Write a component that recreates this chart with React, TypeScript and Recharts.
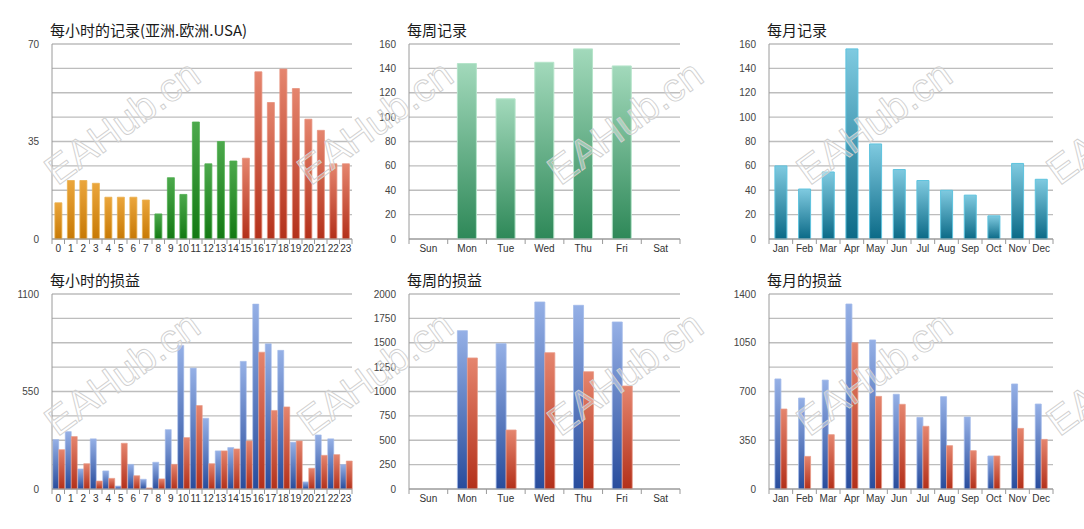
import { BarChart, Bar, XAxis, YAxis, CartesianGrid, Cell } from 'recharts'

// hourly records, coloured by trading session
const hours = ['0', '1', '2', '3', '4', '5', '6', '7', '8', '9', '10', '11', '12', '13', '14', '15', '16', '17', '18', '19', '20', '21', '22', '23']
const hourlyCount = [13, 21, 21, 20, 15, 15, 15, 14, 9, 22, 16, 42, 27, 35, 28, 29, 60, 49, 61, 54, 43, 39, 27, 27]
const hourlySession = ['asia', 'asia', 'asia', 'asia', 'asia', 'asia', 'asia', 'asia', 'europe', 'europe', 'europe', 'europe', 'europe', 'europe', 'europe', 'usa', 'usa', 'usa', 'usa', 'usa', 'usa', 'usa', 'usa', 'usa']
const hourlyProfit = [279, 324, 113, 283, 102, 17, 139, 55, 151, 335, 810, 682, 399, 215, 234, 720, 1043, 819, 782, 264, 40, 305, 283, 138]
const hourlyLoss = [222, 296, 143, 45, 60, 258, 75, 6, 57, 139, 290, 471, 143, 215, 226, 271, 772, 443, 463, 271, 117, 190, 194, 158]

const days = ['Sun', 'Mon', 'Tue', 'Wed', 'Thu', 'Fri', 'Sat']
const dailyCount = [0, 144, 115, 145, 156, 142, 0]
const dailyProfit = [0, 1624, 1491, 1918, 1884, 1713, 0]
const dailyLoss = [0, 1344, 605, 1398, 1203, 1056, 0]

const months = ['Jan', 'Feb', 'Mar', 'Apr', 'May', 'Jun', 'Jul', 'Aug', 'Sep', 'Oct', 'Nov', 'Dec']
const monthlyCount = [60, 41, 55, 156, 78, 57, 48, 40, 36, 19, 62, 49]
const monthlyProfit = [790, 653, 782, 1328, 1070, 680, 514, 663, 517, 237, 754, 610]
const monthlyLoss = [574, 234, 390, 1050, 665, 608, 450, 311, 275, 237, 435, 356]

// gridlines (every tick) and the ticks that get a label
const hourlyCountTicks = [0, 8.75, 17.5, 26.25, 35, 43.75, 52.5, 61.25, 70]
const hourlyCountLabels = [0, 35, 70]
const hourlyPnlTicks = [0, 137.5, 275, 412.5, 550, 687.5, 825, 962.5, 1100]
const hourlyPnlLabels = [0, 550, 1100]
const countTicks = [0, 20, 40, 60, 80, 100, 120, 140, 160]
const dailyPnlTicks = [0, 250, 500, 750, 1000, 1250, 1500, 1750, 2000]
const monthlyPnlTicks = [0, 175, 350, 525, 700, 875, 1050, 1225, 1400]
const monthlyPnlLabels = [0, 350, 700, 1050, 1400]

const sessionFill: Record<string, string> = {
  asia: 'url(#gOrange)',
  europe: 'url(#gGreen)',
  usa: 'url(#gRed)',
}
const sessionStroke: Record<string, string> = {
  asia: '#eab04e',
  europe: '#4fae4f',
  usa: '#e6907c',
}

const hourlyCountData = hours.map((h, i) => ({ name: h, count: hourlyCount[i], session: hourlySession[i] }))
const hourlyPnlData = hours.map((h, i) => ({ name: h, profit: hourlyProfit[i], loss: hourlyLoss[i] }))
const dailyCountData = days.map((d, i) => ({ name: d, count: dailyCount[i] }))
const dailyPnlData = days.map((d, i) => ({ name: d, profit: dailyProfit[i], loss: dailyLoss[i] }))
const monthlyCountData = months.map((m, i) => ({ name: m, count: monthlyCount[i] }))
const monthlyPnlData = months.map((m, i) => ({ name: m, profit: monthlyProfit[i], loss: monthlyLoss[i] }))

const PLOT_TOP = 44
const PLOT_H = 195
const X_AXIS_H = 22
const Y_AXIS_W = 40

function Gradients() {
  return (
    <defs>
      <linearGradient id="gOrange" x1="0" y1="0" x2="0" y2="1">
        <stop offset="0%" stopColor="#eba63c" />
        <stop offset="100%" stopColor="#c77905" />
      </linearGradient>
      <linearGradient id="gGreen" x1="0" y1="0" x2="0" y2="1">
        <stop offset="0%" stopColor="#4ca94c" />
        <stop offset="100%" stopColor="#137913" />
      </linearGradient>
      <linearGradient id="gRed" x1="0" y1="0" x2="0" y2="1">
        <stop offset="0%" stopColor="#e5856e" />
        <stop offset="100%" stopColor="#b3301a" />
      </linearGradient>
      <linearGradient id="gBlue" x1="0" y1="0" x2="0" y2="1">
        <stop offset="0%" stopColor="#95b0e6" />
        <stop offset="100%" stopColor="#284c9c" />
      </linearGradient>
      <linearGradient id="gMint" x1="0" y1="0" x2="0" y2="1">
        <stop offset="0%" stopColor="#a2d9bb" />
        <stop offset="100%" stopColor="#2e8858" />
      </linearGradient>
      <linearGradient id="gTeal" x1="0" y1="0" x2="0" y2="1">
        <stop offset="0%" stopColor="#7fcae0" />
        <stop offset="100%" stopColor="#0b6a87" />
      </linearGradient>
    </defs>
  )
}

// x tick with little marks on the category boundaries
const makeTick = (n: number, plotWidth: number) => (props: any) => {
  const { x, y, payload, index } = props
  const bw = plotWidth / n
  return (
    <g>
      <line x1={x - bw / 2} x2={x - bw / 2} y1={y - 5} y2={y} stroke="#9a9a9a" />
      {index === n - 1 && <line x1={x + bw / 2} x2={x + bw / 2} y1={y - 5} y2={y} stroke="#9a9a9a" />}
      <text x={x} y={y} dy="0.8em" textAnchor="middle" fontSize={10} fill="#333" fontFamily="Liberation Sans, Arial">
        {payload.value}
      </text>
    </g>
  )
}

type PanelProps = {
  left: number
  top: number
  plotLeft: number
  plotWidth: number
  title: string
  data: any[]
  max: number
  ticks: number[]
  labels: number[]
  gap: string
  children: any
}

function Panel({ left, top, plotLeft, plotWidth, title, data, max, ticks, labels, gap, children }: PanelProps) {
  const width = plotLeft + plotWidth + 6
  const height = PLOT_TOP + PLOT_H + X_AXIS_H
  return (
    <div style={{ position: 'absolute', left, top, width, height }}>
      <div
        style={{
          position: 'absolute',
          left: plotLeft - 2,
          top: 20,
          lineHeight: '20px',
          fontSize: 15,
          color: '#1a1a1a',
          fontFamily: '"Noto Sans CJK SC", "Noto Sans", sans-serif',
          whiteSpace: 'nowrap',
        }}
      >
        {title}
      </div>
      <BarChart
        width={width}
        height={height}
        data={data}
        barCategoryGap={gap}
        barGap={0}
        margin={{ top: PLOT_TOP, right: 6, bottom: 0, left: plotLeft - Y_AXIS_W }}
      >
        <Gradients />
        <CartesianGrid horizontal vertical={false} stroke="#bdbdbd" strokeWidth={1.4} />
        <XAxis
          dataKey="name"
          interval={0}
          height={X_AXIS_H}
          tickLine={false}
          tickSize={0}
          tickMargin={5}
          axisLine={{ stroke: '#9a9a9a' }}
          tick={makeTick(data.length, plotWidth)}
        />
        <YAxis
          width={Y_AXIS_W}
          domain={[0, max]}
          ticks={ticks}
          interval={0}
          tickLine={false}
          tickSize={0}
          tickMargin={13}
          axisLine={{ stroke: '#9a9a9a' }}
          tick={{ fontSize: 10, fill: '#444', fontFamily: 'Liberation Sans, Arial' }}
          tickFormatter={(v: number) => (labels.includes(v) ? String(v) : '')}
        />
        {children}
      </BarChart>
    </div>
  )
}

function Watermarks() {
  const xs = [122, 375, 625, 874, 1124]
  const ys = [122, 373]
  return (
    <svg width={1084} height={529} style={{ position: 'absolute', left: 0, top: 0, pointerEvents: 'none' }}>
      {ys.map((y) =>
        xs.map((x) => (
          <text
            key={`${x}-${y}`}
            x={x}
            y={y}
            transform={`rotate(-36 ${x} ${y})`}
            textAnchor="middle"
            dominantBaseline="central"
            fontSize={40}
            fontFamily="Liberation Sans, Arial"
            fill="rgba(255,255,255,0.35)"
            stroke="#cfcfcf"
            strokeWidth={0.9}
          >
            EAHub.cn
          </text>
        ))
      )}
    </svg>
  )
}

export default function App() {
  return (
    <div
      style={{
        position: 'absolute',
        left: 0,
        top: 0,
        width: 1084,
        height: 529,
        background: '#fff',
        overflow: 'hidden',
      }}
    >
      <Panel
        left={0}
        top={0}
        plotLeft={52}
        plotWidth={300}
        title="每小时的记录(亚洲.欧洲.USA)"
        data={hourlyCountData}
        max={70}
        ticks={hourlyCountTicks}
        labels={hourlyCountLabels}
        gap="23%"
      >
        <Bar dataKey="count" isAnimationActive={false}>
          {hourlyCountData.map((d) => (
            <Cell key={d.name} fill={sessionFill[d.session]} stroke={sessionStroke[d.session]} strokeWidth={0.8} />
          ))}
        </Bar>
      </Panel>

      <Panel
        left={0}
        top={250}
        plotLeft={52}
        plotWidth={300}
        title="每小时的损益"
        data={hourlyPnlData}
        max={1100}
        ticks={hourlyPnlTicks}
        labels={hourlyPnlLabels}
        gap="6%"
      >
        <Bar dataKey="profit" fill="url(#gBlue)" stroke="#a2baea" strokeWidth={0.6} isAnimationActive={false} />
        <Bar dataKey="loss" fill="url(#gRed)" stroke="#e89a88" strokeWidth={0.6} isAnimationActive={false} />
      </Panel>

      <Panel
        left={360}
        top={0}
        plotLeft={49}
        plotWidth={271}
        title="每周记录"
        data={dailyCountData}
        max={160}
        ticks={countTicks}
        labels={countTicks}
        gap="25%"
      >
        <Bar dataKey="count" fill="url(#gMint)" stroke="#b5e4ca" strokeWidth={1} isAnimationActive={false} />
      </Panel>

      <Panel
        left={360}
        top={250}
        plotLeft={49}
        plotWidth={271}
        title="每周的损益"
        data={dailyPnlData}
        max={2000}
        ticks={dailyPnlTicks}
        labels={dailyPnlTicks}
        gap="25%"
      >
        <Bar dataKey="profit" fill="url(#gBlue)" stroke="#a2baea" strokeWidth={0.8} isAnimationActive={false} />
        <Bar dataKey="loss" fill="url(#gRed)" stroke="#e89a88" strokeWidth={0.8} isAnimationActive={false} />
      </Panel>

      <Panel
        left={720}
        top={0}
        plotLeft={49}
        plotWidth={284}
        title="每月记录"
        data={monthlyCountData}
        max={160}
        ticks={countTicks}
        labels={countTicks}
        gap="25%"
      >
        <Bar dataKey="count" fill="url(#gTeal)" stroke="#5ec3de" strokeWidth={1} isAnimationActive={false} />
      </Panel>

      <Panel
        left={720}
        top={250}
        plotLeft={49}
        plotWidth={284}
        title="每月的损益"
        data={monthlyPnlData}
        max={1400}
        ticks={monthlyPnlTicks}
        labels={monthlyPnlLabels}
        gap="25%"
      >
        <Bar dataKey="profit" fill="url(#gBlue)" stroke="#a2baea" strokeWidth={0.8} isAnimationActive={false} />
        <Bar dataKey="loss" fill="url(#gRed)" stroke="#e89a88" strokeWidth={0.8} isAnimationActive={false} />
      </Panel>

      <Watermarks />
    </div>
  )
}
